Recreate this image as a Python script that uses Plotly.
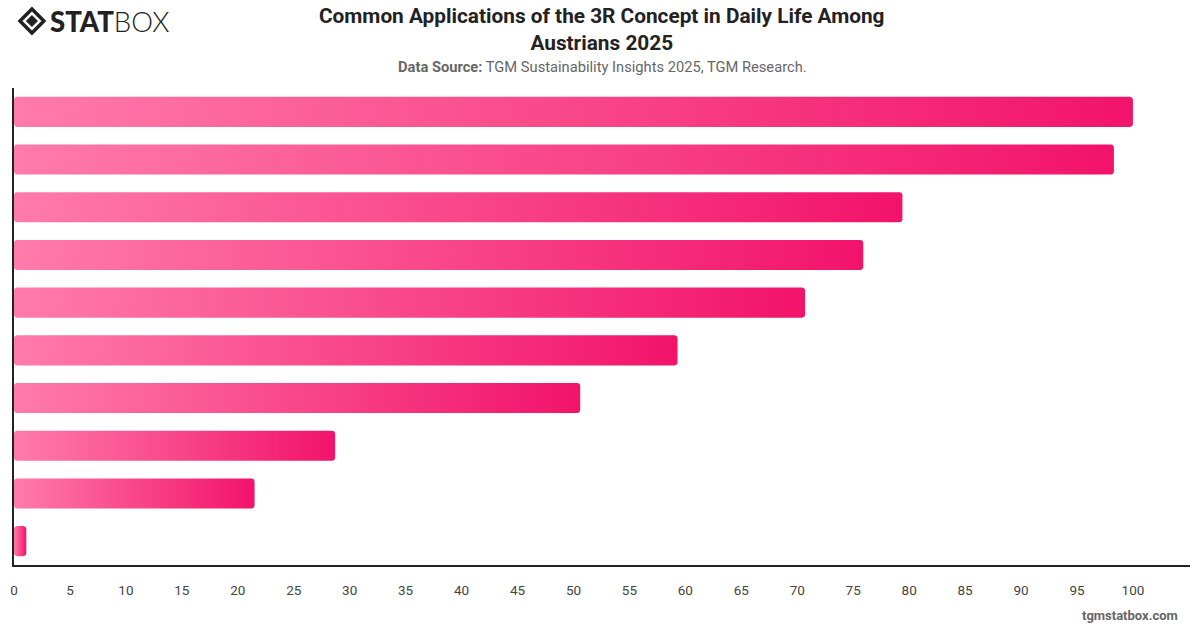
import numpy as np
import plotly.graph_objects as go

# ---- data (top to bottom) ----
values = [100.0, 98.3, 79.4, 75.9, 70.7, 59.3, 50.6, 28.7, 21.5, 1.1]
x_ticks = list(range(0, 101, 5))

title = "<b>Common Applications of the 3R Concept in Daily Life Among<br>Austrians 2025</b>"
subtitle = "<b>Data Source:</b> TGM Sustainability Insights 2025, TGM Research."

LIGHT = "#ff7ba9"
DARK = "#f2136a"

W, H = 1200, 628
ML, MR, MT, MB = 10, 10, 88, 63
XMAX = 105.1
n = len(values)
plot_w = W - ML - MR
plot_h = H - MT - MB
px_x = XMAX / plot_w          # data units per pixel (x)
px_y = n / plot_h             # data units per pixel (y)
half = 0.315                  # half bar thickness in category units
rad = 3.0                     # corner radius in px


def rounded_bar(v, yc):
    rx = min(rad * px_x, v / 2)
    ry = rad * px_y
    y0, y1 = yc - half, yc + half
    xs, ys = [], []
    t = np.linspace(0, np.pi / 2, 6)
    corners = [
        (v - rx, y1 - ry, 0.0),
        (rx, y1 - ry, np.pi / 2),
        (rx, y0 + ry, np.pi),
        (v - rx, y0 + ry, 1.5 * np.pi),
    ]
    for cx, cy, a0 in corners:
        a = a0 + t
        xs.extend(cx + rx * np.cos(a))
        ys.extend(cy + ry * np.sin(a))
    xs.append(xs[0])
    ys.append(ys[0])
    return xs, ys


fig = go.Figure()
for i, v in enumerate(values):
    xs, ys = rounded_bar(v, i)
    fig.add_trace(go.Scatter(
        x=xs, y=ys, mode="lines", fill="toself",
        line=dict(width=0, color=DARK),
        fillgradient=dict(type="horizontal",
                          colorscale=[[0, LIGHT], [1, DARK]]),
        hoverinfo="skip", showlegend=False,
    ))

fig.update_layout(
    width=W, height=H,
    margin=dict(l=ML, r=MR, t=MT, b=MB),
    plot_bgcolor="white", paper_bgcolor="white",
    font=dict(family="Roboto, Inter, sans-serif"),
    xaxis=dict(range=[0, XMAX], tickvals=x_ticks, ticks="", showgrid=False,
               zeroline=False, showline=True, linecolor="#222222", linewidth=1.5,
               tickfont=dict(size=13.5, color="#444444"), ticklabelstandoff=12,
               fixedrange=True),
    yaxis=dict(range=[n - 0.5, -0.5], showticklabels=False, ticks="",
               showgrid=False, zeroline=False, showline=True,
               linecolor="#222222", linewidth=1.5, fixedrange=True),
)


def pxp(xp, yp):
    return (xp - ML) / plot_w, (H - MB - yp) / plot_h


# title
tx, ty = pxp(600, 57)
fig.add_annotation(text=title, xref="paper", yref="paper", x=tx, y=ty,
                   xanchor="center", yanchor="bottom", showarrow=False,
                   font=dict(size=20.8, color="#222222"))

# subtitle
sx, sy = pxp(600, 67)
fig.add_annotation(text=subtitle, xref="paper", yref="paper", x=sx, y=sy,
                   xanchor="center", yanchor="middle", showarrow=False,
                   font=dict(size=14.7, color="#666666"))

# footer
fx, fy = pxp(1180, 615)
fig.add_annotation(text="<b>tgmstatbox.com</b>", xref="paper", yref="paper",
                   x=fx, y=fy, xanchor="right", yanchor="middle",
                   showarrow=False, font=dict(size=13, color="#666666"))

# logo: diamond icon + STATBOX text
cx, cy, r = 28, 21, 12
pts = [(cx, cy - r), (cx + r, cy), (cx, cy + r), (cx - r, cy)]
path = "M " + " L ".join(f"{pxp(a, b)[0]},{pxp(a, b)[1]}" for a, b in pts) + " Z"
fig.add_shape(type="path", path=path, xref="paper", yref="paper",
              line=dict(color="#222222", width=3.5), fillcolor="white")
r2 = 5.5
pts2 = [(cx, cy - r2), (cx + r2, cy), (cx, cy + r2), (cx - r2, cy)]
path2 = "M " + " L ".join(f"{pxp(a, b)[0]},{pxp(a, b)[1]}" for a, b in pts2) + " Z"
fig.add_shape(type="path", path=path2, xref="paper", yref="paper",
              line=dict(color="#222222", width=1), fillcolor="#222222")

lx, ly = pxp(44, 21)
fig.add_annotation(
    text="<span style='font-weight:900'>STAT</span><span style='font-weight:300'>BOX</span>",
    xref="paper", yref="paper", x=lx, y=ly,
    xanchor="left", yanchor="middle", showarrow=False,
    font=dict(size=27.5, color="#222222", family="Lato, Roboto, sans-serif"))

fig.write_html("out.html")
